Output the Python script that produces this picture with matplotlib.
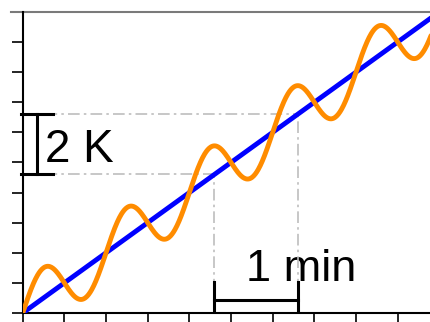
import numpy as np
import matplotlib.pyplot as plt

plt.rcParams['font.family'] = ['Liberation Sans', 'DejaVu Sans']

# heating programme: linear ramp plus sinusoidal modulation
ramp_rate = 1.0        # K per time unit
mod_amplitude = 1.0    # K
mod_period = 2.0       # time units (= 1 min)
t_end = 9.8

# guide points on the underlying ramp used for the scale bars
t_marks = [4.6, 6.6]
bar_labels = ['2 K', '1 min']

t = np.linspace(0, t_end, 800)
T_ramp = ramp_rate * t
T_mod = T_ramp + mod_amplitude * np.sin(2 * np.pi * t / mod_period)

fig = plt.figure(figsize=(4.31, 3.22), dpi=100)
ax = fig.add_axes([0.0527, 0.028, 0.9473, 0.935])

ax.plot(t, T_ramp, color='#0000ff', lw=3.5, solid_capstyle='round', zorder=3)
ax.plot(t, T_mod, color='#ff8c00', lw=3.5, solid_capstyle='round', zorder=4)

# dash-dot guides from the ramp to the axes
T_marks = [ramp_rate * tm for tm in t_marks]
guide = dict(color='#bdbdbd', lw=1.2, dashes=(7, 2.5, 1.5, 2.5), zorder=2)
for tm, Tm in zip(t_marks, T_marks):
    ax.plot([0, tm], [Tm, Tm], **guide)
    ax.plot([tm, tm], [0, Tm], **guide)

# vertical scale bar (temperature)
bx, cap = 0.34, 0.39
ax.plot([bx, bx], T_marks, color='black', lw=2.2, zorder=5, clip_on=False)
for Tm in T_marks:
    ax.plot([bx - cap, bx + cap], [Tm, Tm], color='black', lw=2.2, zorder=5,
            clip_on=False)
ax.text(0.54, 5.03, bar_labels[0], fontsize=33, va='baseline', ha='left',
        zorder=1)

# horizontal scale bar (time)
by = 0.43
ax.plot(t_marks, [by, by], color='black', lw=2.2, zorder=5)
for tm in t_marks:
    ax.plot([tm, tm], [0, 1.03], color='black', lw=2.2, zorder=5)
ax.text(5.36, 1.07, bar_labels[1], fontsize=32.5, va='baseline', ha='left',
        zorder=1)

ax.set_xlim(0, t_end)
ax.set_ylim(0, 10)
ax.set_xticks(np.arange(0, 10))
ax.set_yticks(np.arange(0, 10))
ax.set_xticklabels([])
ax.set_yticklabels([])
ax.tick_params(axis='x', direction='out', length=6.5, width=1.2)
ax.tick_params(axis='y', direction='out', length=8, width=1.2)

ax.spines['right'].set_visible(False)
ax.spines['top'].set_visible(False)
for s in ('left', 'bottom'):
    ax.spines[s].set_linewidth(1.5)

# grey frame line along the top
ax.plot([-0.029, 1.0], [1.0, 1.0], transform=ax.transAxes, color='#7a7a7a',
        lw=1.5, clip_on=False)

fig.savefig('out.png', dpi=100)
